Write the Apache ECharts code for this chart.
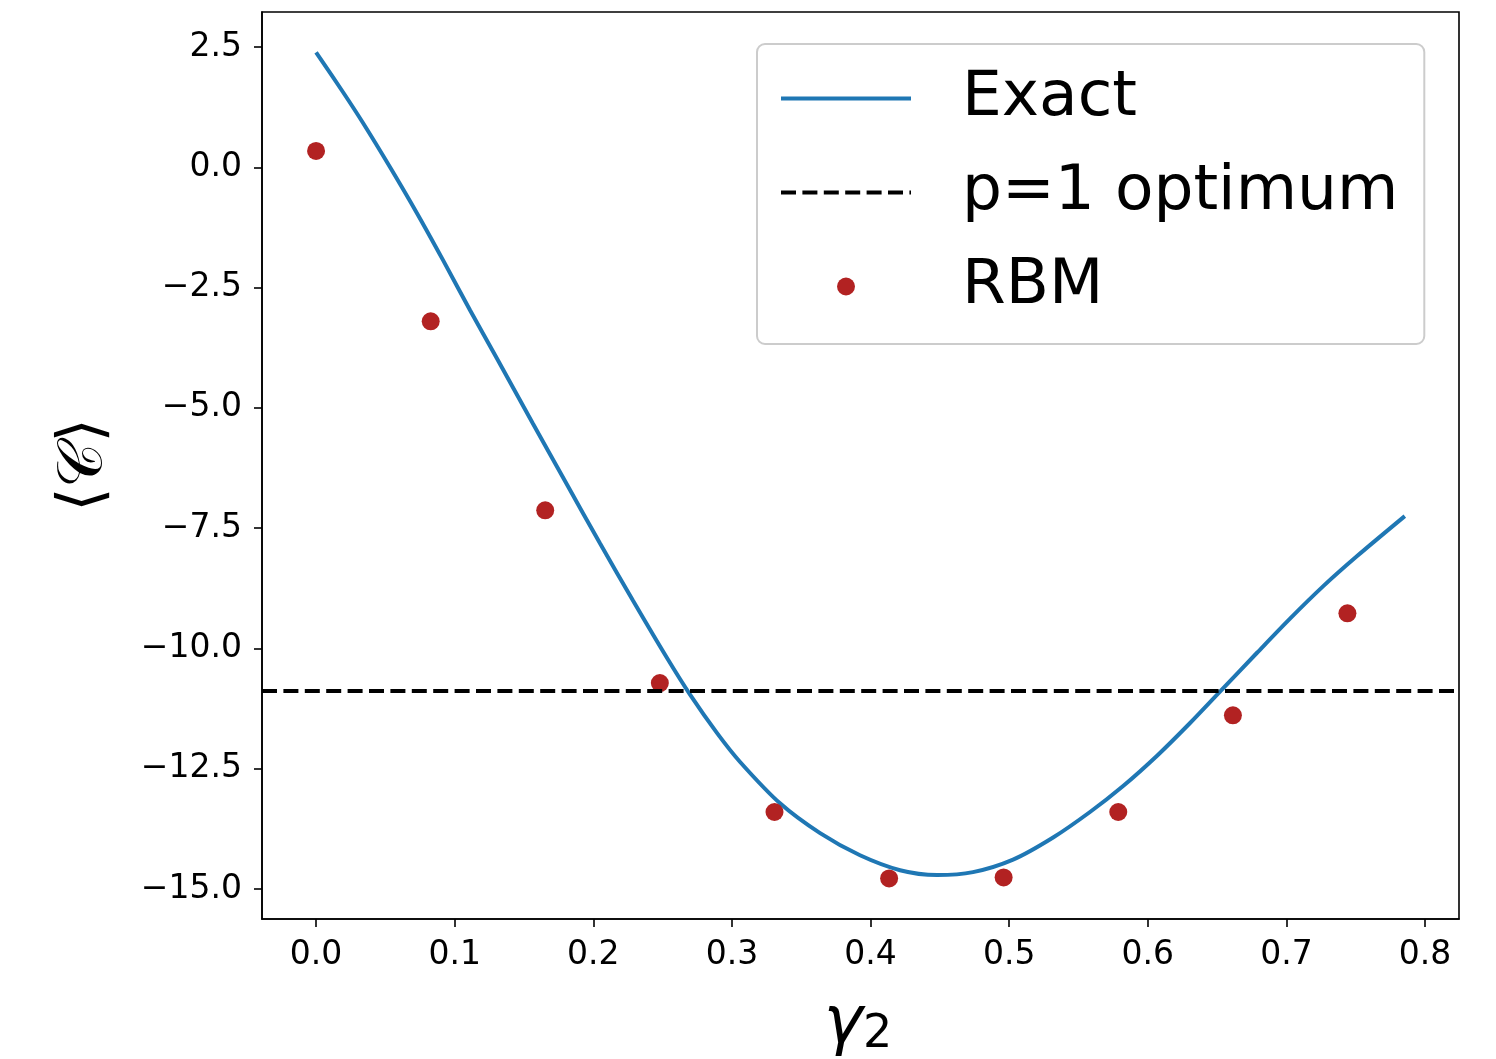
<!DOCTYPE html>
<html>
<head>
<meta charset="utf-8">
<script src="https://cdn.jsdelivr.net/npm/echarts@6/dist/echarts.min.js"></script>
<style>
  html, body { margin: 0; padding: 0; background: #fff; }
  #chart { width: 1496px; height: 1059px; }
</style>
</head>
<body>
<div id="chart"></div>
<script>
// values
const exactX = [0, 0.0195, 0.0339, 0.0534, 0.0729, 0.0916, 0.1111, 0.1306, 0.1565, 0.1811,
  0.2049, 0.2287, 0.2532, 0.2698, 0.2893, 0.3059, 0.3347, 0.3636, 0.3924, 0.4213, 0.448,
  0.4739, 0.5028, 0.5317, 0.5583, 0.5822, 0.6067, 0.6305, 0.6543, 0.6788, 0.7026, 0.7264,
  0.751, 0.7854];
const exactY = [2.39, 1.56, 0.92, 0.00, -0.96, -1.93, -2.97, -3.98, -5.33, -6.60,
  -7.82, -9.01, -10.20, -10.96, -11.76, -12.36, -13.22, -13.84, -14.30, -14.61, -14.71,
  -14.65, -14.39, -13.93, -13.40, -12.86, -12.23, -11.55, -10.83, -10.09, -9.38, -8.71,
  -8.08, -7.25];

const rbmX = [0, 0.0827, 0.1653, 0.248, 0.3307, 0.4134, 0.496, 0.5787, 0.6614, 0.744];
const rbmY = [0.34, -3.20, -7.13, -10.72, -13.40, -14.78, -14.76, -13.40, -11.39, -9.27];

const p1Optimum = -10.89;

const xTicks = [0, 0.1, 0.2, 0.3, 0.4, 0.5, 0.6, 0.7, 0.8];
const yTicks = [-15, -12.5, -10, -7.5, -5, -2.5, 0, 2.5];

const chart = echarts.init(document.getElementById('chart'));
const font = 'DejaVu Sans';
const fmt = (v) => v.toFixed(1).replace('-', '\u2212');

// legend handles: solid and dashed strokes as filled paths
const solidIcon = 'path://M0,0h130v4h-130z';
const dashIcon = 'path://M0,0h15v4h-15zM21.4,0h15v4h-15zM42.8,0h15v4h-15zM64.2,0h15v4h-15z' +
  'M85.6,0h15v4h-15zM107,0h15v4h-15zM128.4,0h1.6v4h-1.6z';

const option = {
  animation: false,
  backgroundColor: '#fff',
  grid: {
    left: 262, right: 37, top: 12, bottom: 140,
    show: true, borderColor: '#000', borderWidth: 1.6
  },
  xAxis: {
    type: 'value',
    min: -0.039, max: 0.8245,
    axisLine: { show: true, onZero: false, lineStyle: { color: '#000', width: 1.6 } },
    axisTick: { show: true, customValues: xTicks, length: 8, lineStyle: { color: '#000', width: 1.6 } },
    axisLabel: { customValues: xTicks, formatter: fmt, margin: 20, color: '#000', fontFamily: font, fontSize: 33 },
    splitLine: { show: false }
  },
  yAxis: {
    type: 'value',
    min: -15.624, max: 3.228,
    axisLine: { show: true, onZero: false, lineStyle: { color: '#000', width: 1.6 } },
    axisTick: { show: true, customValues: yTicks, length: 8, lineStyle: { color: '#000', width: 1.6 } },
    axisLabel: { customValues: yTicks, formatter: fmt, margin: 20, color: '#000', fontFamily: font, fontSize: 33, padding: [4, 0, 0, 0] },
    splitLine: { show: false }
  },
  legend: {
    orient: 'vertical',
    left: 757, top: 44,
    padding: [23, 26, 26, 24],
    itemWidth: 130, itemHeight: 18, itemGap: 31,
    backgroundColor: 'rgba(255,255,255,0.8)',
    borderColor: '#cccccc', borderWidth: 2, borderRadius: 8,
    textStyle: { fontFamily: font, fontSize: 63, lineHeight: 63, color: '#000', padding: [0, 0, 0, 46] },
    data: [
      { name: 'Exact', icon: solidIcon },
      { name: 'p=1 optimum', icon: dashIcon },
      { name: 'RBM', icon: 'circle' }
    ]
  },
  graphic: [
    {
      type: 'text', x: 85, y: 465, rotation: Math.PI / 2,
      style: { text: '\u27E8\uD835\uDC9E\u27E9', fontFamily: font, fontSize: 62, fill: '#000', align: 'center', verticalAlign: 'middle' }
    },
    {
      type: 'text', x: 858, y: 1020,
      style: {
        text: '{g|γ}{s|2}', align: 'center', verticalAlign: 'middle',
        rich: {
          g: { fontFamily: font, fontStyle: 'italic', fontSize: 66, fill: '#000', verticalAlign: 'bottom' },
          s: { fontFamily: font, fontSize: 46, fill: '#000', verticalAlign: 'bottom', padding: [30, 0, 0, 0] }
        }
      }
    }
  ],
  series: [
    {
      name: 'Exact',
      type: 'line',
      data: exactX.map((x, i) => [x, exactY[i]]),
      smooth: 0.3,
      showSymbol: false,
      symbol: 'none',
      lineStyle: { color: '#1f77b4', width: 4 },
      itemStyle: { color: '#1f77b4' },
      z: 2
    },
    {
      name: 'p=1 optimum',
      type: 'line',
      data: [],
      symbol: 'none',
      lineStyle: { color: '#000', width: 4, type: [15, 6.4] },
      itemStyle: { color: '#000' },
      markLine: {
        silent: true,
        symbol: 'none',
        label: { show: false },
        lineStyle: { color: '#000', width: 4, type: [15, 6.4] },
        data: [{ yAxis: p1Optimum }]
      },
      z: 3
    },
    {
      name: 'RBM',
      type: 'scatter',
      data: rbmX.map((x, i) => [x, rbmY[i]]),
      symbolSize: 18,
      itemStyle: { color: '#b22222', opacity: 1 },
      z: 4
    }
  ]
};

chart.setOption(option);
</script>
</body>
</html>
